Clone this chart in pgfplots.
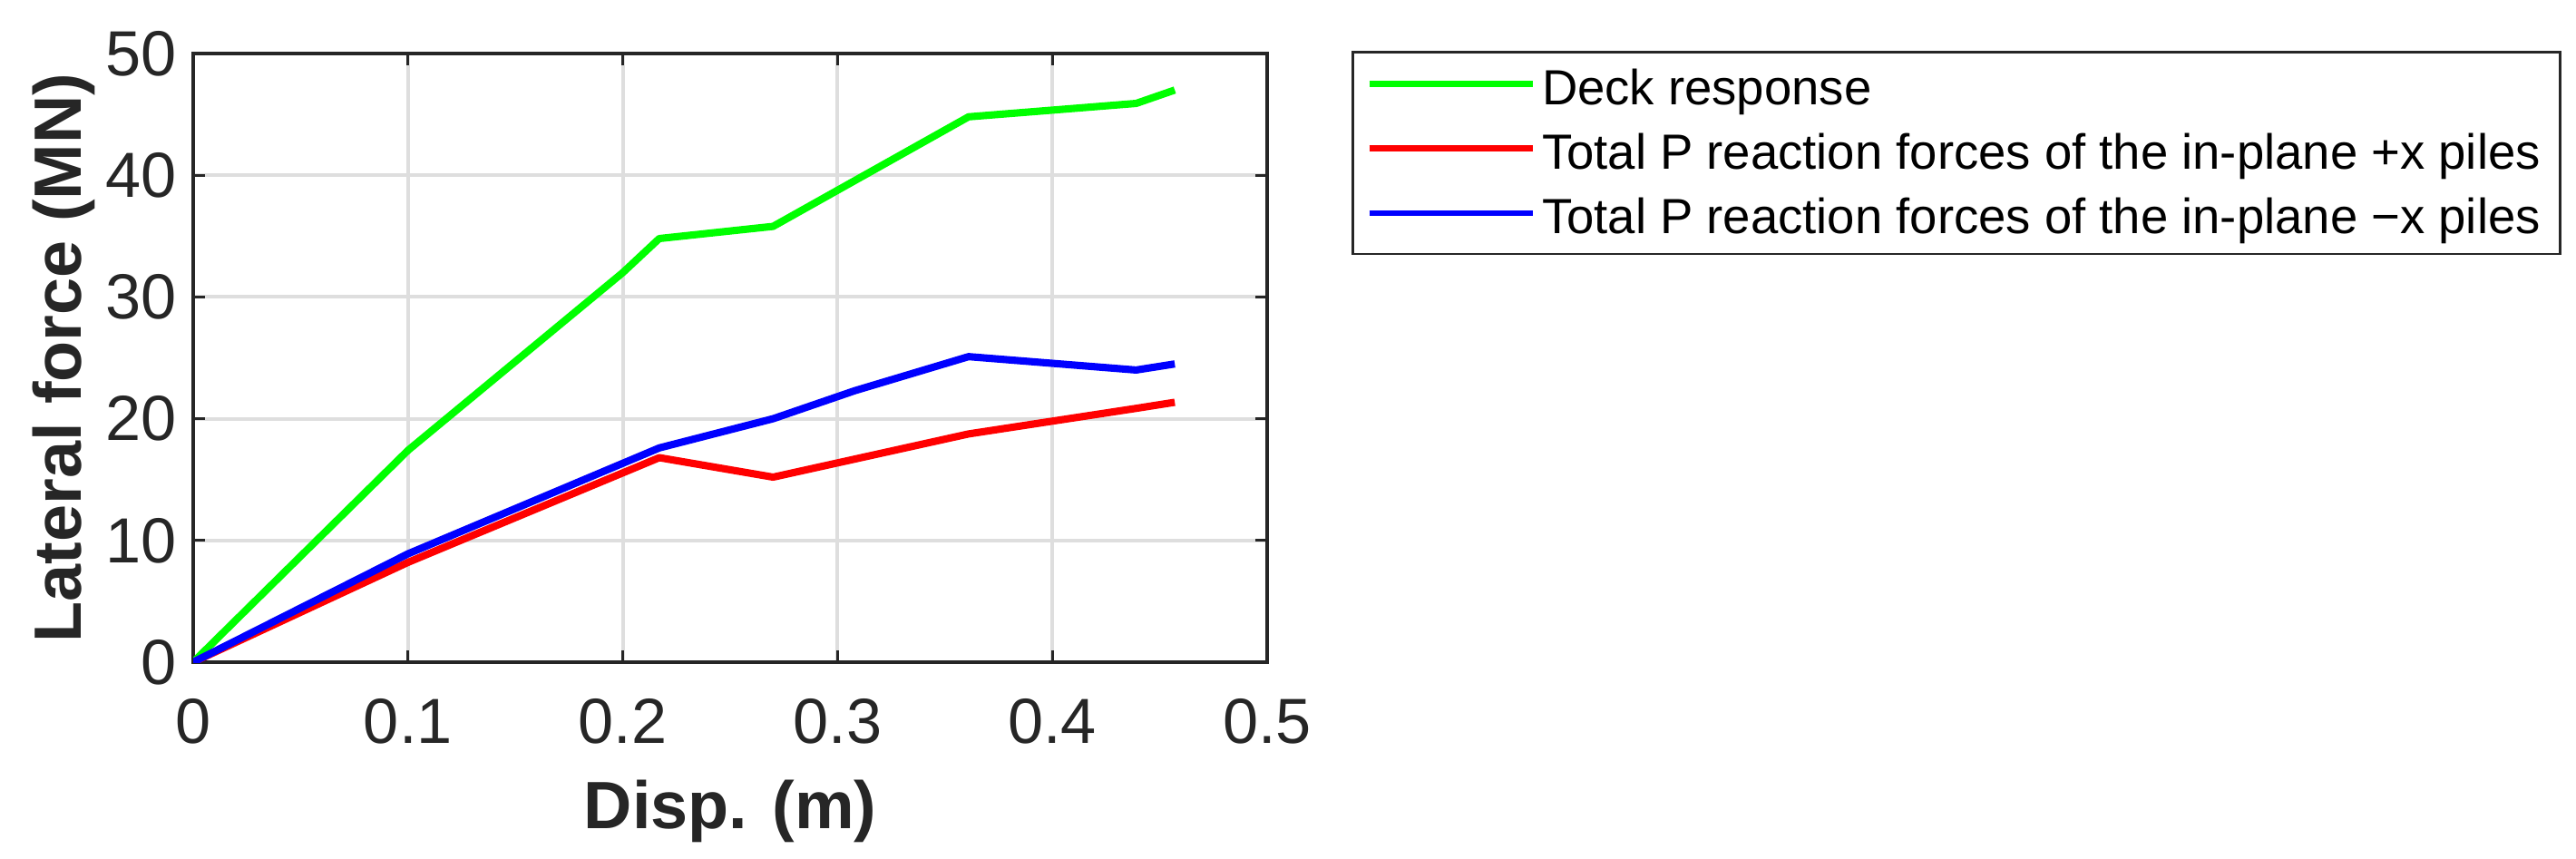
\documentclass[border=0pt]{standalone}
\usepackage{fontspec}
\setmainfont{Liberation Sans}
\usepackage{pgfplots}
\pgfplotsset{compat=1.18}

\definecolor{axisgray}{RGB}{38,38,38}
\definecolor{gridgray}{RGB}{222,222,222}
\definecolor{deckgreen}{RGB}{0,255,0}
\definecolor{pxred}{RGB}{255,0,0}
\definecolor{mxblue}{RGB}{0,0,255}

\newcommand{\lstrut}{\rule[-0.25em]{0pt}{1em}}

\begin{document}
\begin{tikzpicture}
\path[use as bounding box] (-21.3mm,-21.6mm) rectangle (262.7mm,73.0mm);
\begin{axis}[
    at={(0,0)}, anchor=south west,
    scale only axis,
    width=118.4mm, height=67.1mm,
    xmin=0, xmax=0.5, ymin=0, ymax=50,
    xtick={0,0.1,0.2,0.3,0.4,0.5},
    ytick={0,10,20,30,40,50},
    /pgf/number format/assume math mode=true,
    /pgf/number format/fixed,
    tick label style={font=\fontsize{20}{24}\selectfont, text=axisgray, inner sep=0pt},
    xticklabel shift=4mm,
    yticklabel shift=1.8mm,
    tick align=inside,
    tick pos=both,
    major tick length=1.3mm,
    tick style={axisgray, line width=0.9pt},
    axis line style={axisgray, line width=0.9pt},
    grid=major,
    major grid style={gridgray, line width=1.1pt},
    xlabel={\bfseries Disp. (m)},
    ylabel={\bfseries Lateral force (MN)},
    label style={font=\fontsize{21}{25}\selectfont, text=axisgray},
    xlabel style={at={(axis description cs:0.5,0)}, anchor=base, yshift=-18.3mm},
    ylabel style={at={(axis description cs:0,0.5)}, anchor=base, yshift=12.3mm},
    legend cell align=left,
    legend image code/.code={\draw[#1, line width=1.9pt] (0mm,0.14em) -- (18mm,0.14em);},
    legend style={
        at={(axis description cs:1,1)}, anchor=north west,
        xshift=9.3mm, yshift=0.3mm,
        draw=axisgray, line width=0.8pt,
        font=\fontsize{15.5}{18}\selectfont,
        inner xsep=1.5mm, inner ysep=1.0mm,
        row sep=1.1mm,
        /tikz/every even column/.append style={column sep=1.5mm},
    },
    every axis plot/.append style={line width=2.3pt, line join=round},
]
\addplot[deckgreen] coordinates {
    (0,0) (0.1,17.4) (0.2,32.0) (0.217,34.8) (0.27,35.8)
    (0.361,44.8) (0.439,45.9) (0.457,47.0)
};
\addlegendentry{\lstrut Deck response}
\addplot[pxred] coordinates {
    (0,0) (0.1,8.2) (0.217,16.8) (0.27,15.2) (0.361,18.75)
    (0.439,20.85) (0.457,21.35)
};
\addlegendentry{\lstrut Total P reaction forces of the in-plane +x piles}
\addplot[mxblue] coordinates {
    (0,0) (0.1,8.9) (0.217,17.6) (0.27,20.0) (0.308,22.3)
    (0.361,25.1) (0.439,24.0) (0.457,24.5)
};
\addlegendentry{\lstrut Total P reaction forces of the in-plane −x piles}
\end{axis}
\end{tikzpicture}
\end{document}
